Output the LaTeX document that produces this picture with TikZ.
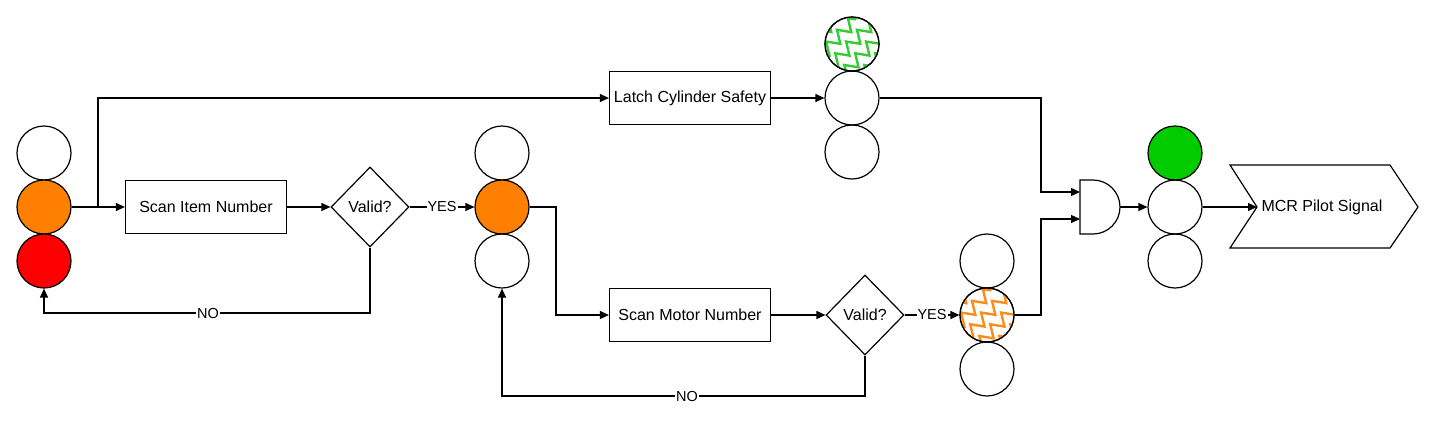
\documentclass[tikz,border=0pt]{standalone}
\usepackage{fontspec}
\setmainfont{Liberation Sans}
\usetikzlibrary{arrows.meta,shapes.geometric,decorations.pathmorphing}
\begin{document}
\begin{tikzpicture}[x=1pt,y=-1pt,line width=1.2pt,
  every node/.style={font=\fontsize{16}{18}\selectfont},
  lamp/.style={circle,draw,minimum size=54pt,inner sep=0pt},
  box/.style={draw,minimum width=161pt,minimum height=53pt,inner sep=0pt},
  dia/.style={diamond,draw,minimum width=78pt,minimum height=80pt,inner sep=0pt,aspect=0.95},
  arr/.style={-{Triangle[length=9pt,width=8pt]}},
  lbl/.style={fill=white,inner sep=1pt,font=\fontsize{14.5}{16}\selectfont},
  zz/.style={decorate,decoration={zigzag,segment length=16pt,amplitude=6pt},line width=2.4pt}]
\useasboundingbox (0,0) rectangle (1432,432);
% left stack
\node[lamp] (l1) at (44,153) {};
\node[lamp,fill={rgb,255:red,255;green,128;blue,0}] (l2) at (44,207) {};
\node[lamp,fill={rgb,255:red,255;green,0;blue,0}] (l3) at (44,261) {};
% middle stack
\node[lamp] (m1) at (502,153) {};
\node[lamp,fill={rgb,255:red,255;green,128;blue,0}] (m2) at (502,207) {};
\node[lamp] (m3) at (502,261) {};
% top stack
\node[lamp] (t1) at (852,44) {};
\begin{scope}
\clip (852,44) circle (27);
\foreach \d in {-40,-20,0,20,40}
  \draw[zz,green!75!black!80] (826+\d,72) -- (878+\d,16);
\end{scope}
\draw (852,44) circle (27);
\node[lamp] (t2) at (852,98) {};
\node[lamp] (t3) at (852,152) {};
% bottom-right stack
\node[lamp] (b1) at (987,261) {};
\node[lamp] (b2) at (987,315) {};
\begin{scope}
\clip (987,315) circle (27);
\foreach \d in {-40,-20,0,20,40}
  \draw[zz,orange!90] (961+\d,343) -- (1013+\d,287);
\end{scope}
\draw (987,315) circle (27);
\node[lamp] (b3) at (987,369) {};
% right stack
\node[lamp,fill={rgb,255:red,0;green,204;blue,0}] (r1) at (1175,153) {};
\node[lamp] (r2) at (1175,207) {};
\node[lamp] (r3) at (1175,261) {};
% boxes
\node[box] (scan) at (206,207) {Scan Item Number};
\node[box] (latch) at (690,98) {Latch Cylinder Safety};
\node[box] (motor) at (690,315) {Scan Motor Number};
\node[dia] (v1) at (370,207) {Valid?};
\node[dia] (v2) at (865,315) {Valid?};
% AND gate
\draw (1080,180) -- (1093,180) arc (-90:90:27) -- (1080,234) -- cycle;
\coordinate (g1) at (1080,192);
\coordinate (g2) at (1080,219);
\coordinate (gout) at (1120,207);
% MCR
\node[draw=none] (mcr) at (1322,207) {MCR Pilot Signal};
\draw (1230,165) -- (1390,165) -- (1418,207) -- (1390,248) -- (1230,248) -- (1257,207) -- cycle;
\coordinate (mcrin) at (1257,207);
% connectors
\draw[arr] (l2) -- (scan);
\draw[arr] (l2.east) -| (98,98) -- (latch);
\draw[arr] (scan) -- (v1);
\draw[arr] (v1) -- node[lbl]{YES} (m2);
\draw[arr] (v1.south) |- (208,313) node[lbl]{NO} -| (l3);
\draw[arr] (m2.east) -| (556,250) |- (motor);
\draw[arr] (motor) -- (v2);
\draw[arr] (v2) -- node[lbl]{YES} (b2);
\draw[arr] (v2.south) |- (687,396) node[lbl]{NO} -| (m3);
\draw[arr] (latch) -- (t2);
\draw[arr] (t2.east) -| (1041,150) |- (g1);
\draw[arr] (b2.east) -| (1041,260) |- (g2);
\draw[arr] (gout) -- (r2);
\draw[arr] (r2) -- (mcrin);
\end{tikzpicture}
\end{document}
